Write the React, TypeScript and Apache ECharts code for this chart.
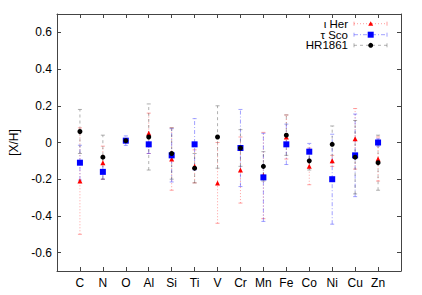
import React, { useEffect, useRef } from "react";
import * as echarts from "echarts";

const categories = ["C", "N", "O", "Al", "Si", "Ti", "V", "Cr", "Mn", "Fe", "Co", "Ni", "Cu", "Zn"];
const yTickValues = [-0.6, -0.4, -0.2, 0, 0.2, 0.4, 0.6];
const yTickLabels = ["-0.6", "-0.4", "-0.2", "0", "0.2", "0.4", "0.6"];

const iHerValues: (number | null)[] = [-0.21, -0.11, null, 0.05, -0.09, -0.13, -0.22, -0.15, -0.18, 0.03, -0.13, -0.10, 0.02, -0.09];
const iHerErrors: (number | null)[] = [0.29, 0.09, null, 0.11, 0.17, 0.09, 0.22, 0.18, 0.235, 0.12, 0.10, 0.03, 0.165, 0.12];

const tauScoValues: (number | null)[] = [-0.11, -0.16, 0.01, -0.01, -0.07, -0.01, null, -0.03, -0.19, -0.01, -0.05, -0.20, -0.07, 0.0];
const tauScoErrors: (number | null)[] = [0.095, 0.04, 0.026, 0.05, 0.145, 0.14, null, 0.21, 0.24, 0.11, 0.045, 0.245, 0.225, 0.02];

const hr1861Values: (number | null)[] = [0.06, -0.08, 0.01, 0.03, -0.06, -0.14, 0.03, -0.03, -0.13, 0.04, -0.10, -0.01, -0.08, -0.11];
const hr1861Errors: (number | null)[] = [0.12, 0.12, 0.0, 0.18, 0.14, 0.08, 0.17, 0.10, 0.08, 0.11, 0.05, 0.10, 0.20, 0.15];

type SeriesDef = {
  name: string;
  values: (number | null)[];
  errors: (number | null)[];
  color: string;
  errColor: string;
  dash: number[];
  symbol: string;
  symbolSize: number;
};

const seriesDefs: SeriesDef[] = [
  { name: "ι Her", values: iHerValues, errors: iHerErrors, color: "#ff0000", errColor: "rgba(255,70,70,0.5)", dash: [1, 2], symbol: "triangle", symbolSize: 5 },
  { name: "τ Sco", values: tauScoValues, errors: tauScoErrors, color: "#0000ff", errColor: "rgba(70,70,255,0.5)", dash: [4, 2, 1, 2], symbol: "rect", symbolSize: 6 },
  { name: "HR1861", values: hr1861Values, errors: hr1861Errors, color: "#000000", errColor: "rgba(100,100,100,0.5)", dash: [3, 3], symbol: "circle", symbolSize: 5 },
];

export default function App() {
  const ref = useRef<HTMLDivElement>(null);
  useEffect(() => {
    if (!ref.current) return;
    const chart = echarts.init(ref.current, undefined, { renderer: "svg" });
    const font = "Liberation Sans, Arial, sans-serif";
    const axisColor = "#444";

    const series: any[] = [];
    seriesDefs.forEach((s) => {
      const errData: any[] = [];
      s.values.forEach((v, i) => {
        if (v === null) return;
        const e = s.errors[i] ?? 0;
        errData.push([i + 1, v - e, v + e]);
      });
      series.push({
        type: "custom",
        name: s.name + " err",
        data: errData,
        silent: true,
        renderItem: (params: any, api: any) => {
          const x = api.value(0);
          const lo = api.coord([x, api.value(1)]);
          const hi = api.coord([x, api.value(2)]);
          const style = { stroke: s.errColor, lineWidth: 1, lineDash: s.dash, fill: null };
          const cap = { stroke: s.errColor, lineWidth: 1, fill: null };
          return {
            type: "group",
            children: [
              { type: "line", shape: { x1: lo[0], y1: lo[1], x2: hi[0], y2: hi[1] }, style },
              { type: "line", shape: { x1: lo[0] - 2, y1: lo[1], x2: lo[0] + 2, y2: lo[1] }, style: cap },
              { type: "line", shape: { x1: hi[0] - 2, y1: hi[1], x2: hi[0] + 2, y2: hi[1] }, style: cap },
            ],
          };
        },
        z: 2,
      });
    });
    seriesDefs.forEach((s) => {
      const ptData: any[] = [];
      s.values.forEach((v, i) => {
        if (v === null) return;
        ptData.push([i + 1, v]);
      });
      series.push({
        type: "scatter",
        name: s.name,
        data: ptData,
        symbol: s.symbol,
        symbolSize: s.symbolSize,
        itemStyle: { color: s.color, opacity: 1 },
        silent: true,
        z: 3,
      });
    });

    // legend drawn with graphic elements
    const legendRows = [23.7, 34.7, 45.3];
    const graphics: any[] = [];
    seriesDefs.forEach((s, k) => {
      const y = legendRows[k];
      graphics.push({
        type: "text",
        x: 348,
        y,
        style: { text: s.name, font: `11.5px ${font}`, lineHeight: 10, fill: "#000", align: "right", verticalAlign: "middle" },
      });
      graphics.push({ type: "line", shape: { x1: 354, y1: y, x2: 387, y2: y }, style: { stroke: s.errColor, lineWidth: 1, lineDash: s.dash } });
      graphics.push({ type: "line", shape: { x1: 354, y1: y - 2, x2: 354, y2: y + 2 }, style: { stroke: s.errColor, lineWidth: 1 } });
      graphics.push({ type: "line", shape: { x1: 387, y1: y - 2, x2: 387, y2: y + 2 }, style: { stroke: s.errColor, lineWidth: 1 } });
      const cx = 370.7;
      if (s.symbol === "circle") {
        graphics.push({ type: "circle", shape: { cx, cy: y, r: 2.5 }, style: { fill: s.color } });
      } else if (s.symbol === "rect") {
        graphics.push({ type: "rect", shape: { x: cx - 3, y: y - 3, width: 6, height: 6 }, style: { fill: s.color } });
      } else {
        graphics.push({ type: "polygon", shape: { points: [[cx, y - 2.5], [cx + 2.5, y + 2], [cx - 2.5, y + 2]] }, style: { fill: s.color } });
      }
    });

    const baseX = {
      type: "value",
      min: 0,
      max: 15,
      splitLine: { show: false },
      axisLine: { show: true, onZero: false, lineStyle: { color: axisColor, width: 1 } },
    };
    const baseY = {
      type: "value",
      min: -0.7,
      max: 0.7,
      splitLine: { show: false },
      axisLine: { show: true, onZero: false, lineStyle: { color: axisColor, width: 1 } },
    };

    chart.setOption({
      animation: false,
      grid: { left: 57, right: 21, top: 14, bottom: 24, containLabel: false },
      xAxis: [
        {
          ...baseX,
          position: "bottom",
          axisTick: { show: true, inside: true, length: 4, customValues: categories.map((_, i) => i + 1), lineStyle: { color: axisColor } },
          axisLabel: {
            show: true,
            customValues: categories.map((_, i) => i + 1),
            formatter: (v: number) => categories[Math.round(v) - 1] ?? "",
            color: "#000",
            fontSize: 12,
            fontFamily: font,
            margin: 6,
          },
        },
        {
          ...baseX,
          position: "top",
          axisTick: { show: true, inside: true, length: 4, customValues: categories.map((_, i) => i + 1), lineStyle: { color: axisColor } },
          axisLabel: { show: false },
        },
      ],
      yAxis: [
        {
          ...baseY,
          position: "left",
          name: "[X/H]",
          nameLocation: "middle",
          nameGap: 37,
          nameTextStyle: { color: "#000", fontSize: 12, fontFamily: font },
          axisTick: { show: true, inside: true, length: 4, customValues: yTickValues, lineStyle: { color: axisColor } },
          axisLabel: {
            show: true,
            customValues: yTickValues,
            formatter: (v: number) => {
              const idx = yTickValues.findIndex((t) => Math.abs(t - v) < 1e-6);
              return idx >= 0 ? yTickLabels[idx] : "";
            },
            color: "#000",
            fontSize: 12,
            fontFamily: font,
            margin: 5,
          },
        },
        {
          ...baseY,
          position: "right",
          axisTick: { show: true, inside: true, length: 4, customValues: yTickValues, lineStyle: { color: axisColor } },
          axisLabel: { show: false },
        },
      ],
      series,
      graphic: graphics,
    });
    return () => chart.dispose();
  }, []);
  return <div ref={ref} style={{ width: 422, height: 295, position: "absolute", left: 0, top: 0, background: "#fff" }} />;
}
